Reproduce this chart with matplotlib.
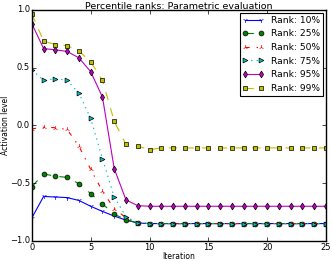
import matplotlib
matplotlib.use("Agg")
import matplotlib.pyplot as plt
import numpy as np

plt.style.use("classic")

iterations = np.arange(26)
tail = 16

rank_10 = [-0.80, -0.615, -0.62, -0.625, -0.65, -0.70, -0.745, -0.785, -0.82, -0.845] + [-0.85] * tail
rank_25 = [-0.53, -0.42, -0.44, -0.45, -0.505, -0.59, -0.68, -0.77, -0.815, -0.845] + [-0.85] * tail
rank_50 = [-0.03, -0.015, -0.02, -0.035, -0.18, -0.38, -0.57, -0.72, -0.80, -0.845] + [-0.85] * tail
rank_75 = [0.48, 0.39, 0.405, 0.39, 0.28, 0.06, -0.29, -0.62, -0.79, -0.845] + [-0.85] * tail
rank_95 = [0.88, 0.665, 0.655, 0.64, 0.585, 0.465, 0.245, -0.375, -0.645, -0.695] + [-0.70] * tail
rank_99 = [0.965, 0.73, 0.70, 0.69, 0.645, 0.55, 0.39, 0.035, -0.165, -0.18, -0.21] + [-0.195] * 15

series = [
    ("Rank: 10%", rank_10, "b", "-", "1"),
    ("Rank: 25%", rank_25, "g", "--", "o"),
    ("Rank: 50%", rank_50, "r", "-.", "2"),
    ("Rank: 75%", rank_75, "c", ":", ">"),
    ("Rank: 95%", rank_95, "m", "-", "d"),
    ("Rank: 99%", rank_99, "y", "--", "s"),
]

fig = plt.figure(figsize=(3.32, 2.61), dpi=100)
ax = fig.add_axes([0.096, 0.077, 0.886, 0.885])

for label, vals, col, ls, mk in series:
    ax.plot(iterations, vals, color=col, linestyle=ls, marker=mk,
            markersize=3.5, linewidth=0.8, markeredgewidth=0.5,
            label=label)

ax.set_xlim(0, 25)
ax.set_ylim(-1.0, 1.0)
ax.set_xticks([0, 5, 10, 15, 20, 25])
ax.set_yticks([-1.0, -0.5, 0.0, 0.5, 1.0])
ax.tick_params(labelsize=6, length=3, pad=1.5)
ax.set_xlabel("Iteration", fontsize=5.5, labelpad=0)
ax.set_ylabel("Activation level", fontsize=5.5, labelpad=0)
ax.set_title("Percentile ranks: Parametric evaluation", fontsize=6.8, pad=1)

leg = ax.legend(loc="upper right", fontsize=6.6, numpoints=2,
                borderaxespad=0.35, handlelength=2.3, labelspacing=0.5,
                borderpad=0.3)
leg.get_frame().set_linewidth(0.8)

fig.savefig("out.png", dpi=100)
